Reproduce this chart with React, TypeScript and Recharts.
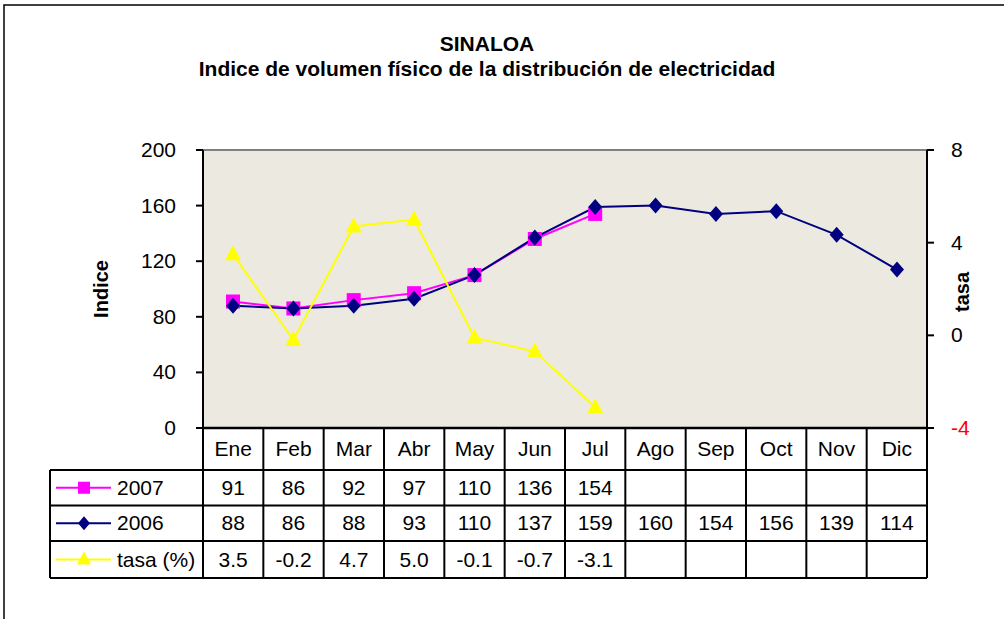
import React from 'react';
import { LineChart, Line, XAxis, YAxis, CartesianGrid, ReferenceLine } from 'recharts';

const months = ['Ene', 'Feb', 'Mar', 'Abr', 'May', 'Jun', 'Jul', 'Ago', 'Sep', 'Oct', 'Nov', 'Dic'];
const indice2007 = [91, 86, 92, 97, 110, 136, 154];
const indice2006 = [88, 86, 88, 93, 110, 137, 159, 160, 154, 156, 139, 114];
const tasa = [3.5, -0.2, 4.7, 5.0, -0.1, -0.7, -3.1];
const leftTicks = [0, 40, 80, 120, 160, 200];
const rightTicks = [-4, 0, 4, 8];

const FONT = "'Liberation Sans', Arial, sans-serif";
const FS = 21;
const MAGENTA = '#FF00FF';
const NAVY = '#000080';
const YELLOW = '#FFFF00';

const chartData = months.map((m, i) => ({
  month: m,
  y2007: i < indice2007.length ? indice2007[i] : null,
  y2006: indice2006[i],
  tasa: i < tasa.length ? tasa[i] : null,
}));

// plot box (layout only)
const PLOT_L = 203;
const PLOT_R = 927;
const COL_W = (PLOT_R - PLOT_L) / months.length;
const LEG_L = 50;
const ROW_Y = [428, 470, 505.5, 541, 578];

const Square = (p: any) =>
  p.value == null || p.cy == null ? null : (
    <rect key={p.index} x={p.cx - 7} y={p.cy - 7} width={14} height={14} fill={MAGENTA} />
  );

const Diamond = (p: any) =>
  p.value == null || p.cy == null ? null : (
    <path
      key={p.index}
      d={`M${p.cx},${p.cy - 8} L${p.cx + 7},${p.cy} L${p.cx},${p.cy + 8} L${p.cx - 7},${p.cy} Z`}
      fill={NAVY}
    />
  );

const Triangle = (p: any) =>
  p.value == null || p.cy == null ? null : (
    <path
      key={p.index}
      d={`M${p.cx},${p.cy - 9} L${p.cx + 8},${p.cy + 6} L${p.cx - 8},${p.cy + 6} Z`}
      fill={YELLOW}
    />
  );

const RightTick = ({ x, y, payload }: any) => (
  <text
    x={x}
    y={y}
    dy={7}
    textAnchor="start"
    fontSize={FS}
    fontFamily={FONT}
    fill={payload.value < 0 ? '#FF0000' : '#000000'}
  >
    {payload.value}
  </text>
);

const LeftTick = ({ x, y, payload }: any) => (
  <text x={x} y={y} dy={7} textAnchor="end" fontSize={FS} fontFamily={FONT} fill="#000000">
    {payload.value}
  </text>
);

function LegendKey({ row }: { row: number }) {
  const cy = (ROW_Y[row + 1] + ROW_Y[row + 2]) / 2;
  const cx = 84;
  const color = [MAGENTA, NAVY, YELLOW][row];
  let marker;
  if (row === 0) marker = <rect x={cx - 6} y={cy - 6} width={12} height={12} fill={color} />;
  else if (row === 1)
    marker = <path d={`M${cx},${cy - 7} L${cx + 6},${cy} L${cx},${cy + 7} L${cx - 6},${cy} Z`} fill={color} />;
  else marker = <path d={`M${cx},${cy - 8} L${cx + 7},${cy + 5} L${cx - 7},${cy + 5} Z`} fill={color} />;
  return (
    <g>
      <line x1={56} x2={111} y1={cy} y2={cy} stroke={color} strokeWidth={2} />
      {marker}
    </g>
  );
}

function DataTable() {
  const colX = months.map((_, i) => PLOT_L + i * COL_W);
  const rowLabels = ['2007', '2006', 'tasa (%)'];
  const rowValues = [
    indice2007.map((v) => String(v)),
    indice2006.map((v) => String(v)),
    tasa.map((v) => v.toFixed(1)),
  ];
  return (
    <g fontFamily={FONT} fontSize={FS} fill="#000">
      {/* horizontal lines */}
      <line x1={PLOT_L} x2={PLOT_R} y1={ROW_Y[0]} y2={ROW_Y[0]} stroke="#000" strokeWidth={2.5} />
      {ROW_Y.slice(1).map((y, i) => (
        <line key={i} x1={LEG_L} x2={PLOT_R} y1={y} y2={y} stroke="#000" strokeWidth={2} />
      ))}
      {/* vertical lines */}
      <line x1={LEG_L} x2={LEG_L} y1={ROW_Y[1]} y2={ROW_Y[4]} stroke="#000" strokeWidth={2} />
      {[...colX, PLOT_R].map((x, i) => (
        <line key={i} x1={x} x2={x} y1={ROW_Y[0]} y2={ROW_Y[4]} stroke="#000" strokeWidth={2} />
      ))}
      {/* header */}
      {months.map((m, i) => (
        <text key={m} x={colX[i] + COL_W / 2} y={(ROW_Y[0] + ROW_Y[1]) / 2 + 7} textAnchor="middle">
          {m}
        </text>
      ))}
      {rowLabels.map((lab, r) => (
        <g key={lab}>
          <LegendKey row={r} />
          <text x={117} y={(ROW_Y[r + 1] + ROW_Y[r + 2]) / 2 + 7}>
            {lab}
          </text>
          {rowValues[r].map((v, i) => (
            <text key={i} x={colX[i] + COL_W / 2} y={(ROW_Y[r + 1] + ROW_Y[r + 2]) / 2 + 7} textAnchor="middle">
              {v}
            </text>
          ))}
        </g>
      ))}
    </g>
  );
}

export default function App() {
  return (
    <div
      style={{
        position: 'absolute',
        left: 0,
        top: 0,
        width: 1004,
        height: 619,
        overflow: 'hidden',
        background: '#ffffff',
      }}
    >
      <div style={{ position: 'absolute', left: 0, top: 0 }}>
        <LineChart width={1004} height={619} data={chartData} margin={{ top: 150, right: 17, bottom: 191, left: 123 }}>
          <CartesianGrid fill="#ECE9E0" horizontal={false} vertical={false} />
          <XAxis dataKey="month" hide padding={{ left: 30, right: 30 }} />
          <YAxis
            yAxisId="left"
            orientation="left"
            width={80}
            domain={[0, 200]}
            ticks={leftTicks}
            tick={<LeftTick />}
            tickSize={7}
            tickMargin={20}
            axisLine={{ stroke: '#000', strokeWidth: 2 }}
            tickLine={{ stroke: '#000', strokeWidth: 2 }}
          />
          <YAxis
            yAxisId="right"
            orientation="right"
            width={60}
            domain={[-4, 8]}
            ticks={rightTicks}
            tick={<RightTick />}
            tickSize={7}
            tickMargin={17}
            axisLine={{ stroke: '#000', strokeWidth: 2 }}
            tickLine={{ stroke: '#000', strokeWidth: 2 }}
          />
          <ReferenceLine yAxisId="left" y={200} stroke="#808080" strokeWidth={2} />
          <Line
            yAxisId="left"
            dataKey="y2007"
            stroke={MAGENTA}
            strokeWidth={2}
            dot={Square}
            activeDot={false}
            isAnimationActive={false}
          />
          <Line
            yAxisId="left"
            dataKey="y2006"
            stroke={NAVY}
            strokeWidth={2}
            dot={Diamond}
            activeDot={false}
            isAnimationActive={false}
          />
          <Line
            yAxisId="right"
            dataKey="tasa"
            stroke={YELLOW}
            strokeWidth={2}
            dot={Triangle}
            activeDot={false}
            isAnimationActive={false}
          />
        </LineChart>
      </div>
      <svg
        width={1004}
        height={619}
        style={{ position: 'absolute', left: 0, top: 0, pointerEvents: 'none' }}
      >
        <rect x={4} y={5} width={1100} height={700} fill="none" stroke="#000" strokeWidth={1.5} />
        <text x={487} y={51} textAnchor="middle" fontFamily={FONT} fontWeight="bold" fontSize={21}>
          SINALOA
        </text>
        <text x={487} y={76} textAnchor="middle" fontFamily={FONT} fontWeight="bold" fontSize={21}>
          Indice de volumen físico de la distribución de electricidad
        </text>
        <text
          transform="translate(108, 289) rotate(-90)"
          textAnchor="middle"
          fontFamily={FONT}
          fontWeight="bold"
          fontSize={20}
        >
          Indice
        </text>
        <text
          transform="translate(969, 292) rotate(-90)"
          textAnchor="middle"
          fontFamily={FONT}
          fontWeight="bold"
          fontSize={20}
        >
          tasa
        </text>
        <DataTable />
      </svg>
    </div>
  );
}
